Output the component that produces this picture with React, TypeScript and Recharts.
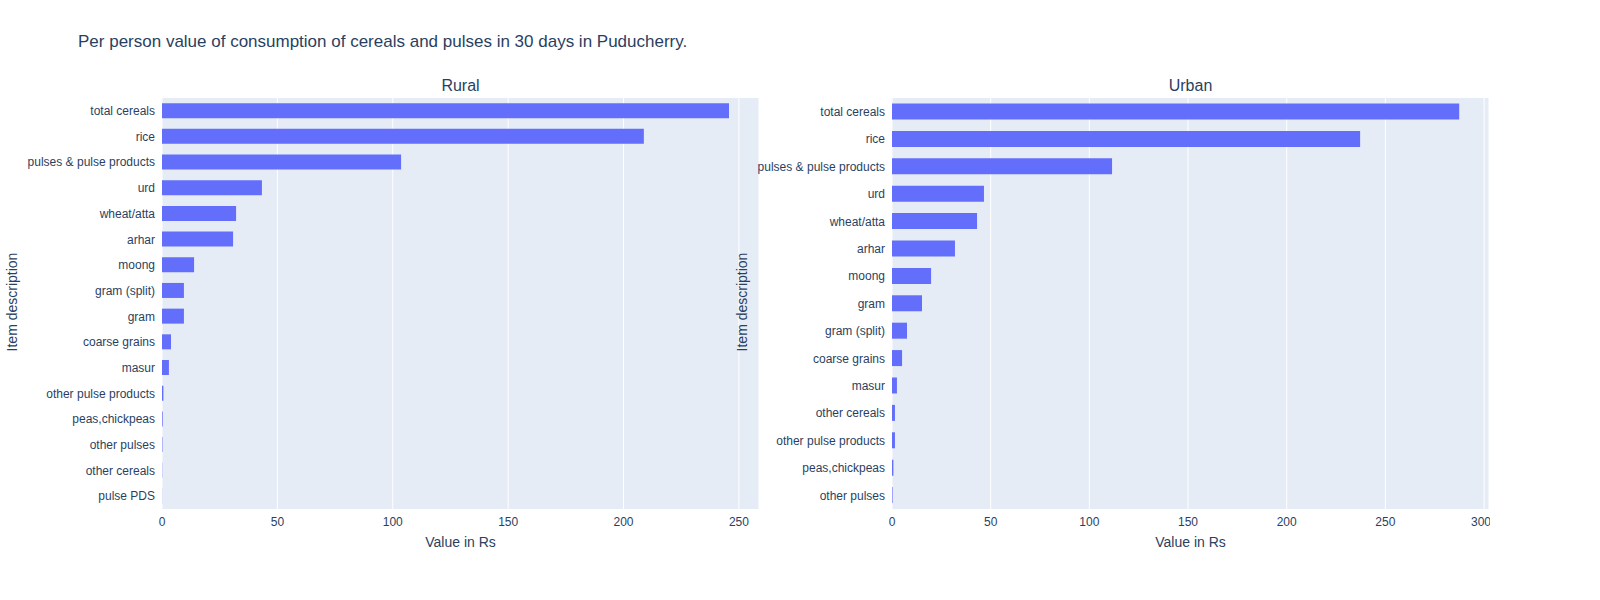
import { BarChart, Bar, XAxis, YAxis, CartesianGrid } from "recharts";

const ruralItems = [
  "total cereals", "rice", "pulses & pulse products", "urd", "wheat/atta", "arhar", "moong",
  "gram (split)", "gram", "coarse grains", "masur", "other pulse products", "peas,chickpeas",
  "other pulses", "other cereals", "pulse PDS",
];
const ruralValues = [245.7, 208.8, 103.6, 43.3, 32.1, 30.8, 13.9, 9.5, 9.5, 3.9, 3.0, 0.6, 0.3, 0.2, 0.1, 0.05];

const urbanItems = [
  "total cereals", "rice", "pulses & pulse products", "urd", "wheat/atta", "arhar", "moong",
  "gram", "gram (split)", "coarse grains", "masur", "other cereals", "other pulse products",
  "peas,chickpeas", "other pulses",
];
const urbanValues = [287.4, 237.2, 111.5, 46.6, 43.1, 31.9, 19.8, 15.2, 7.6, 5.1, 2.5, 1.5, 1.5, 0.7, 0.3];

const ruralTicks = [0, 50, 100, 150, 200, 250];
const urbanTicks = [0, 50, 100, 150, 200, 250, 300];

const font = "Arial, 'Liberation Sans', sans-serif";
const ink = "#2a3f5f";

function Panel(props: { items: string[]; values: number[]; ticks: number[]; max: number; left: number; title: string }) {
  const data = props.items.map((item, i) => ({ item, value: props.values[i] }));
  return (
    <div style={{ position: "absolute", left: props.left, top: 0 }}>
      <BarChart
        width={760}
        height={600}
        data={data}
        layout="vertical"
        margin={{ top: 98, right: 1, bottom: 0, left: 0 }}
        barCategoryGap="20%"
      >
        <CartesianGrid fill="#E5ECF6" stroke="#ffffff" horizontal={false} />
        <XAxis
          type="number"
          domain={[0, props.max]}
          ticks={props.ticks}
          height={91}
          tickLine={false}
          axisLine={false}
          tickMargin={2}
          tick={{ fill: ink, fontSize: 12, fontFamily: font }}
        />
        <YAxis
          type="category"
          dataKey="item"
          width={162}
          tickLine={false}
          axisLine={false}
          tickMargin={1}
          interval={0}
          tick={{ fill: ink, fontSize: 12, fontFamily: font }}
        />
        <Bar dataKey="value" fill="#636efa" isAnimationActive={false} />
      </BarChart>
      <div style={{ position: "absolute", left: 162, width: 597, top: 77, textAlign: "center", fontSize: 16, color: ink, fontFamily: font }}>
        {props.title}
      </div>
      <div style={{ position: "absolute", left: 162, width: 597, top: 534, textAlign: "center", fontSize: 14, color: ink, fontFamily: font }}>
        Value in Rs
      </div>
      <div style={{ position: "absolute", left: -38, top: 294, width: 100, textAlign: "center", fontSize: 14, color: ink, fontFamily: font, transform: "rotate(-90deg)", whiteSpace: "nowrap" }}>
        Item description
      </div>
    </div>
  );
}

export default function App() {
  return (
    <div style={{ position: "absolute", left: 0, top: 0, width: 1600, height: 600, background: "#fff", fontFamily: font }}>
      <div style={{ position: "absolute", left: 78, top: 32, fontSize: 17, color: ink }}>
        Per person value of consumption of cereals and pulses in 30 days in Puducherry.
      </div>
      <Panel items={ruralItems} values={ruralValues} ticks={ruralTicks} max={258.7} left={0} title="Rural" />
      <Panel items={urbanItems} values={urbanValues} ticks={urbanTicks} max={302.5} left={730} title="Urban" />
    </div>
  );
}
